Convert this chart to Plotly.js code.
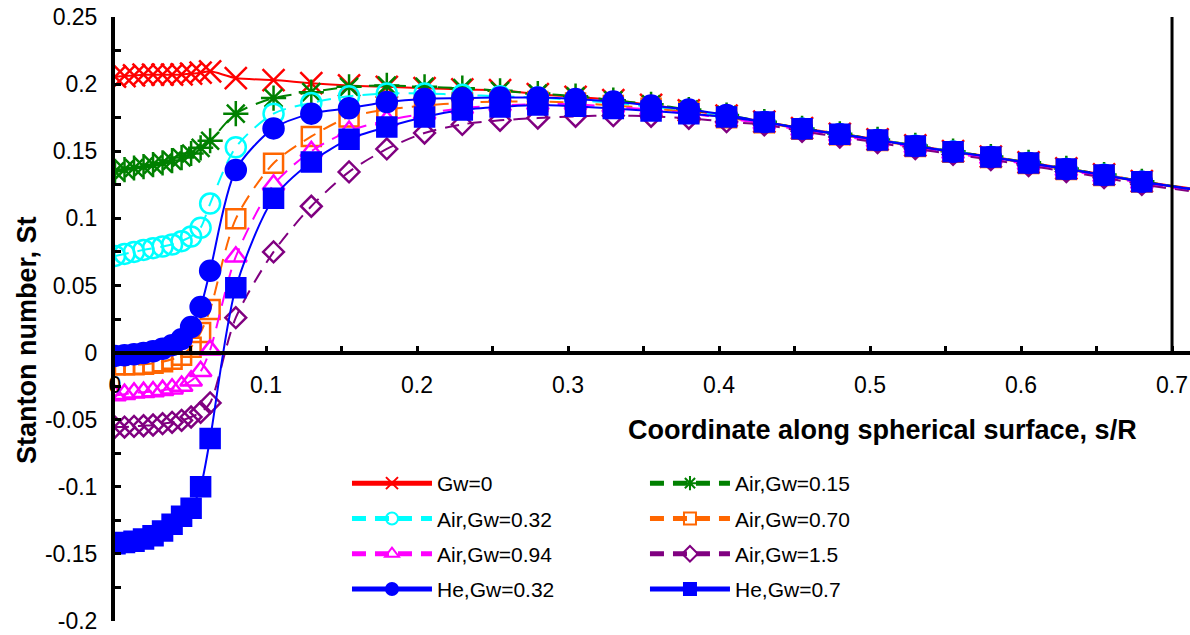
<!DOCTYPE html>
<html>
<head>
<meta charset="utf-8">
<script src="https://cdn.plot.ly/plotly-3.0.1.min.js"></script>
<style>
  html, body { margin: 0; padding: 0; background: #ffffff; }
  #chart { width: 1190px; height: 635px; }
</style>
</head>
<body>
<div id="chart"></div>
<script>
// ---- data ----
// coordinate along the spherical surface, s/R
const sPos = [0, 0.0063, 0.0126, 0.0189, 0.0252, 0.0315, 0.0378, 0.0441, 0.0504, 0.0567, 0.063,
  0.08, 0.105, 0.13, 0.155, 0.18, 0.205, 0.23, 0.255, 0.28, 0.305, 0.33, 0.355, 0.38, 0.405,
  0.43, 0.455, 0.48, 0.505, 0.53, 0.555, 0.58, 0.605, 0.63, 0.655, 0.68, 0.73];

const seriesNames = ["Gw=0", "Air,Gw=0.15", "Air,Gw=0.32", "Air,Gw=0.70",
  "Air,Gw=0.94", "Air,Gw=1.5", "He,Gw=0.32", "He,Gw=0.7"];

const stGw0 = [0.2055, 0.206, 0.2065, 0.207, 0.207, 0.207, 0.207, 0.2072, 0.2078, 0.2085, 0.2095,
  0.2045, 0.203, 0.2007, 0.199, 0.198, 0.197, 0.196, 0.1955, 0.1925, 0.1905, 0.188, 0.1845, 0.1805, 0.1765,
  0.172, 0.1672, 0.163, 0.1588, 0.1543, 0.15, 0.146, 0.1417, 0.1372, 0.1327, 0.1277, 0.1195];

const stAir015 = [0.135, 0.1363, 0.1375, 0.1385, 0.14, 0.1413, 0.143, 0.1453, 0.1483, 0.1525, 0.1578,
  0.178, 0.1896, 0.194, 0.198, 0.199, 0.198, 0.197, 0.195, 0.193, 0.191, 0.188, 0.185, 0.181, 0.177,
  0.172, 0.167, 0.163, 0.1588, 0.1543, 0.15, 0.146, 0.1417, 0.1372, 0.1326, 0.1276, 0.119];

const stAir032 = [0.072, 0.0735, 0.075, 0.0765, 0.0778, 0.079, 0.0805, 0.083, 0.0865, 0.093, 0.111,
  0.153, 0.178, 0.186, 0.191, 0.193, 0.193, 0.192, 0.191, 0.19, 0.188, 0.186, 0.183, 0.18, 0.176,
  0.1717, 0.1668, 0.1626, 0.1584, 0.1541, 0.1498, 0.1457, 0.1413, 0.1368, 0.1324, 0.1273, 0.119];

const stAir070 = [-0.009, -0.009, -0.009, -0.0087, -0.008, -0.0068, -0.005, -0.002, 0.004, 0.015, 0.032,
  0.0996, 0.141, 0.161, 0.1755, 0.181, 0.184, 0.186, 0.187, 0.187, 0.186, 0.184, 0.182, 0.179, 0.175,
  0.1712, 0.1664, 0.1623, 0.158, 0.1536, 0.1492, 0.1453, 0.1409, 0.1364, 0.1319, 0.127, 0.1185];

const stAir094 = [-0.032, -0.031, -0.03, -0.0295, -0.029, -0.028, -0.027, -0.025, -0.021, -0.014, 0.002,
  0.0714, 0.125, 0.15, 0.165, 0.173, 0.178, 0.182, 0.184, 0.185, 0.185, 0.183, 0.181, 0.178, 0.1745,
  0.1705, 0.1657, 0.1615, 0.1572, 0.1528, 0.1484, 0.1446, 0.1402, 0.1357, 0.1312, 0.1262, 0.118];

const stAir150 = [-0.0555, -0.0555, -0.055, -0.0545, -0.054, -0.053, -0.052, -0.0505, -0.048, -0.0445, -0.0375,
  0.026, 0.075, 0.109, 0.1346, 0.1517, 0.1636, 0.17, 0.173, 0.1747, 0.176, 0.1765, 0.176, 0.1745, 0.172,
  0.1697, 0.1648, 0.1606, 0.1564, 0.1519, 0.1476, 0.1437, 0.1393, 0.1348, 0.1303, 0.1253, 0.1175];

const stHe032 = [-0.0025, -0.002, -0.0013, -0.0003, 0.001, 0.0028, 0.0055, 0.01, 0.019, 0.034, 0.061,
  0.136, 0.167, 0.178, 0.182, 0.1866, 0.189, 0.1895, 0.19, 0.19, 0.189, 0.187, 0.184, 0.181, 0.177,
  0.1717, 0.1668, 0.1626, 0.1584, 0.1539, 0.1496, 0.1457, 0.1413, 0.1368, 0.1322, 0.1273, 0.119];

const stHe070 = [-0.1425, -0.1415, -0.1405, -0.139, -0.1365, -0.133, -0.128, -0.122, -0.116, -0.1, -0.064,
  0.0483, 0.115, 0.142, 0.159, 0.168, 0.1755, 0.1807, 0.183, 0.1844, 0.1835, 0.1818, 0.18, 0.178, 0.1755,
  0.1717, 0.1668, 0.1626, 0.1584, 0.1539, 0.1496, 0.1457, 0.1413, 0.1368, 0.1322, 0.1273, 0.119];

const xTickVals = [0, 0.1, 0.2, 0.3, 0.4, 0.5, 0.6, 0.7];
const xTickText = ["0", "0.1", "0.2", "0.3", "0.4", "0.5", "0.6", "0.7"];
const yTickVals = [-0.2, -0.15, -0.1, -0.05, 0, 0.05, 0.1, 0.15, 0.2, 0.25];
const yTickText = ["-0.2", "-0.15", "-0.1", "-0.05", "0", "0.05", "0.1", "0.15", "0.2", "0.25"];
const yMinorVals = [-0.175, -0.125, -0.075, -0.025, 0.025, 0.075, 0.125, 0.175, 0.225];
const xMinorVals = [0.05, 0.15, 0.25, 0.35, 0.45, 0.55, 0.65];

// ---- styles ----
const seriesValues = [stGw0, stAir015, stAir032, stAir070, stAir094, stAir150, stHe032, stHe070];
const styles = [
  {color: "#FF0000", symbol: "x-thin-open", size: 22, dash: "solid"},
  {color: "#008000", symbol: "asterisk-open", size: 21, dash: "14px,9px"},
  {color: "#00FFFF", symbol: "circle-open", size: 20, dash: "14px,9px"},
  {color: "#FF6600", symbol: "square-open", size: 19, dash: "14px,9px"},
  {color: "#FF00FF", symbol: "triangle-up-open", size: 19, dash: "14px,9px"},
  {color: "#800080", symbol: "diamond-open", size: 16, dash: "14px,9px"},
  {color: "#0000FF", symbol: "circle", size: 20, dash: "solid"},
  {color: "#0000FF", symbol: "square", size: 19, dash: "solid"}
];
const AXIS_MAX = 0.7;

const traces = seriesValues.map((vals, i) => {
  const st = styles[i];
  return {
    type: "scatter",
    mode: "lines+markers",
    name: seriesNames[i],
    x: sPos,
    y: vals,
    legend: (i % 2 === 0) ? "legend" : "legend2",
    legendgroup: "g" + i,
    line: {color: st.color, width: 2, dash: st.dash, shape: "spline", smoothing: 0.8},
    marker: {
      symbol: st.symbol,
      size: sPos.map(s => s > AXIS_MAX ? 0 : st.size),
      opacity: 1,
      color: st.color,
      line: {color: st.color, width: 2.5}
    },
    cliponaxis: true,
    hoverinfo: "skip"
  };
});

const FONT = "Liberation Sans, Arial, Helvetica, sans-serif";

const layout = {
  width: 1190,
  height: 635,
  margin: {l: 115, r: 0, t: 17, b: 14, pad: 0},
  paper_bgcolor: "#ffffff",
  plot_bgcolor: "#ffffff",
  font: {family: FONT, color: "#000000", size: 20},
  showlegend: true,
  xaxis: {
    range: [0, 0.7119],
    anchor: "free",
    position: 0.2 / 0.45,
    showline: true,
    linecolor: "#000000",
    linewidth: 4,
    showgrid: false,
    zeroline: false,
    tickmode: "array",
    tickvals: xTickVals,
    ticktext: xTickText,
    ticks: "inside",
    ticklen: 5,
    tickwidth: 3,
    tickcolor: "#000000",
    minor: {tickmode: "array", tickvals: xMinorVals, ticks: "inside", ticklen: 5, tickwidth: 3, tickcolor: "#000000", showgrid: false},
    tickfont: {family: FONT, size: 23, color: "#000000"},
    ticklabelstandoff: 11
  },
  yaxis: {
    range: [-0.2, 0.25],
    showline: true,
    linecolor: "#000000",
    linewidth: 4,
    showgrid: false,
    zeroline: false,
    tickmode: "array",
    tickvals: yTickVals,
    ticktext: yTickText,
    ticks: "inside",
    ticklen: 6,
    tickwidth: 3,
    tickcolor: "#000000",
    minor: {tickmode: "array", tickvals: yMinorVals, ticks: "inside", ticklen: 6, tickwidth: 3, tickcolor: "#000000", showgrid: false},
    tickfont: {family: FONT, size: 23, color: "#000000"},
    ticklabelstandoff: 9
  },
  shapes: [
    {type: "line", xref: "x", yref: "y", x0: 0.7, x1: 0.7, y0: 0, y1: 0.25,
     line: {color: "#000000", width: 3}, layer: "above"}
  ],
  legend: {
    x: 0.2158, y: 0.2616, xanchor: "left", yanchor: "top",
    orientation: "v", bgcolor: "rgba(0,0,0,0)", borderwidth: 0,
    font: {family: FONT, size: 21, color: "#000000"},
    itemwidth: 80, tracegroupgap: 5, itemsizing: "constant"
  },
  legend2: {
    x: 0.493, y: 0.2616, xanchor: "left", yanchor: "top",
    orientation: "v", bgcolor: "rgba(0,0,0,0)", borderwidth: 0,
    font: {family: FONT, size: 21, color: "#000000"},
    itemwidth: 80, tracegroupgap: 5, itemsizing: "constant"
  },
  annotations: [
    {text: "<b>Stanton number, St</b>", xref: "paper", yref: "paper",
     x: (27 - 115) / 1075, y: 1 - (340 - 17) / 604, xanchor: "center", yanchor: "middle",
     textangle: -90, showarrow: false, font: {family: FONT, size: 27, color: "#000000"}},
    {text: "<b>Coordinate along spherical surface, s/R</b>", xref: "paper", yref: "paper",
     x: (882 - 115) / 1075, y: 1 - (430 - 17) / 604, xanchor: "center", yanchor: "middle",
     showarrow: false, font: {family: FONT, size: 27, color: "#000000"}}
  ]
};

Plotly.newPlot("chart", traces, layout, {staticPlot: true, displayModeBar: false});
</script>
</body>
</html>
